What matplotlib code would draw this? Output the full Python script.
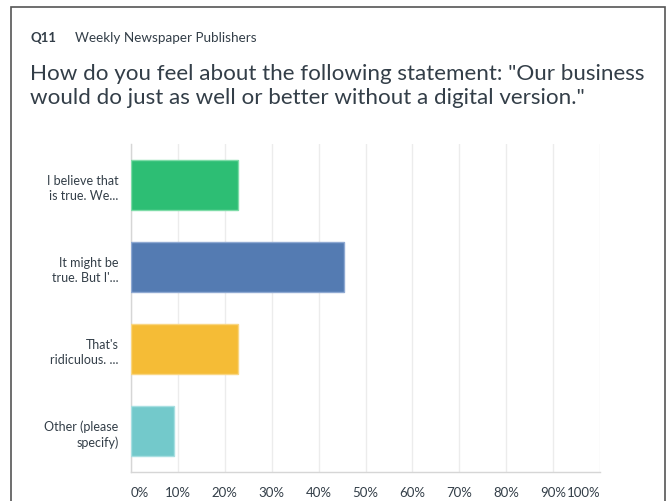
import matplotlib.pyplot as plt
from matplotlib.patches import Rectangle

plt.rcParams['font.family'] = ['Lato', 'DejaVu Sans']

# Data
categories = ['I believe that\nis true. We...', "It might be\ntrue. But I'...",
              "That's\nridiculous. ...", 'Other (please\nspecify)']
values = [22.73, 45.45, 22.73, 9.09]
colors = ['#2DBE74', '#547BB2', '#F5BC36', '#73C9CB']
edge_colors = ['#7EDCA8', '#8FA9D2', '#F9D683', '#A8DFE1']
tick_values = list(range(0, 101, 10))
tick_labels = [f'{v}%' for v in tick_values]

fig = plt.figure(figsize=(6.67, 5.02), dpi=100)
ax = fig.add_axes([131 / 667, 1 - 473 / 502, (600 - 131) / 667, (473 - 145) / 502])

y = list(range(len(categories)))
ax.barh(y, values, height=0.62, color=colors, edgecolor=edge_colors, linewidth=1, zorder=3)
ax.set_ylim(len(categories) - 0.5, -0.5)
ax.set_xlim(0, 100)

ax.set_yticks(y)
ax.set_yticklabels(categories, fontsize=9, color='#333e48', linespacing=1.3)
ax.set_xticks(tick_values)
ax.set_xticklabels(tick_labels, fontsize=9.5, color='#333e48')
xl = ax.get_xticklabels()
xl[0].set_horizontalalignment('left')
xl[-1].set_horizontalalignment('right')
ax.tick_params(axis='both', length=0)
ax.tick_params(axis='x', pad=10)
ax.tick_params(axis='y', pad=9)

ax.grid(axis='x', color='#ececec', linewidth=1, zorder=0)
for s in ['top', 'right']:
    ax.spines[s].set_visible(False)
for s in ['left', 'bottom']:
    ax.spines[s].set_color('#d6d6d6')
    ax.spines[s].set_linewidth(1)

# Outer frame
fig.patches.append(Rectangle((11 / 667, -0.1), (665 - 11) / 667, 1 - 8 / 502 + 0.1,
                             transform=fig.transFigure, fill=False,
                             edgecolor='#555555', linewidth=1.2))

fig.text(30 / 667, 1 - 38 / 502, 'Q11', fontsize=9.5, fontweight='bold',
         color='#333e48', va='center')
fig.text(75 / 667, 1 - 38 / 502, 'Weekly Newspaper Publishers', fontsize=9.7,
         color='#333e48', va='center')
fig.text(30 / 667, 1 - 86 / 502,
         'How do you feel about the following statement: "Our business\n'
         'would do just as well or better without a digital version."',
         fontsize=16.1, color='#333e48', va='center', linespacing=1.3)

fig.savefig('out.png', dpi=100, facecolor='white')
